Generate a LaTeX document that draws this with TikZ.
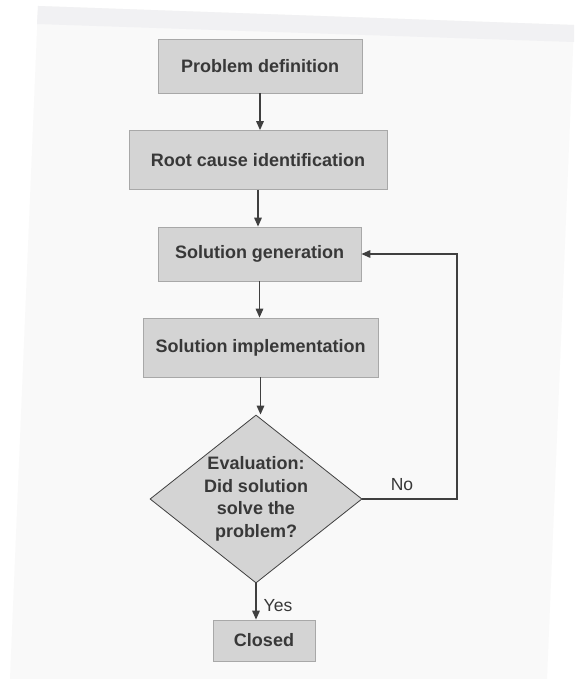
\documentclass[tikz,border=0pt]{standalone}
\usepackage{fontspec}
\setmainfont{Liberation Sans}
\usetikzlibrary{arrows.meta,shapes.geometric}
\definecolor{boxgray}{HTML}{D4D4D4}
\definecolor{edgegray}{HTML}{A8A8A8}
\definecolor{txt}{HTML}{383838}
\definecolor{linec}{HTML}{404040}
\definecolor{paper}{HTML}{F9F9F9}
\definecolor{band}{HTML}{F1F1F3}
\begin{document}
\begin{tikzpicture}[x=1pt,y=-1pt,
  box/.style={fill=boxgray, draw=edgegray, line width=0.7pt, inner sep=0pt,
    font=\fontsize{18}{22}\selectfont\bfseries, text=txt},
  decision/.style={diamond, fill=boxgray, draw=linec, line width=0.8pt, inner sep=0pt,
    font=\fontsize{18}{22.5}\selectfont\bfseries, text=txt, align=center},
  arr/.style={draw=linec, line width=1.5pt, -{Triangle[length=9pt,width=7.5pt]}},
  lbl/.style={font=\fontsize{17.5}{21}\selectfont, text=txt}]
\useasboundingbox (0,0) rectangle (574,679);
% scanned page background
\fill[white] (0,0) rectangle (574,679);
\fill[paper] (38,6) -- (574,25) -- (547,679) -- (10,679) -- cycle;
\fill[band] (38,6) -- (574,25) -- (574,42) -- (37,24) -- cycle;
% nodes
\node[box, minimum width=204pt, minimum height=54pt] (pd) at (260,66) {Problem definition};
\node[box, minimum width=258pt, minimum height=59pt] (rc) at (258,160) {Root cause identification};
\node[box, minimum width=203pt, minimum height=54pt] (sg) at (259.5,254) {Solution generation};
\node[box, minimum width=235pt, minimum height=59pt] (si) at (260.5,347.5) {Solution implementation};
\node[decision, minimum width=212pt, minimum height=168pt, aspect=1.26] (ev) at (256,499)
  {Evaluation:\\Did solution\\solve the\\problem?};
\node[box, minimum width=102pt, minimum height=41pt] (cl) at (264,640.5) {Closed};
\coordinate (ret) at (457,499);
% connectors
\draw[arr] (pd.south) -- (pd.south |- rc.north);
\draw[arr] (rc.south) -- (rc.south |- sg.north);
\draw[arr] (sg.south) -- (sg.south |- si.north);
\draw[arr] (si.south) -- (si.south |- ev.north);
\draw[arr] (ev.south) -- (ev.south |- cl.north);
\draw[arr] (ev.east) -- (ret) |- (sg.east);
% labels
\node[lbl] (no) at (402,485) {No};
\node[lbl] (yes) at (278,606) {Yes};
\end{tikzpicture}
\end{document}
